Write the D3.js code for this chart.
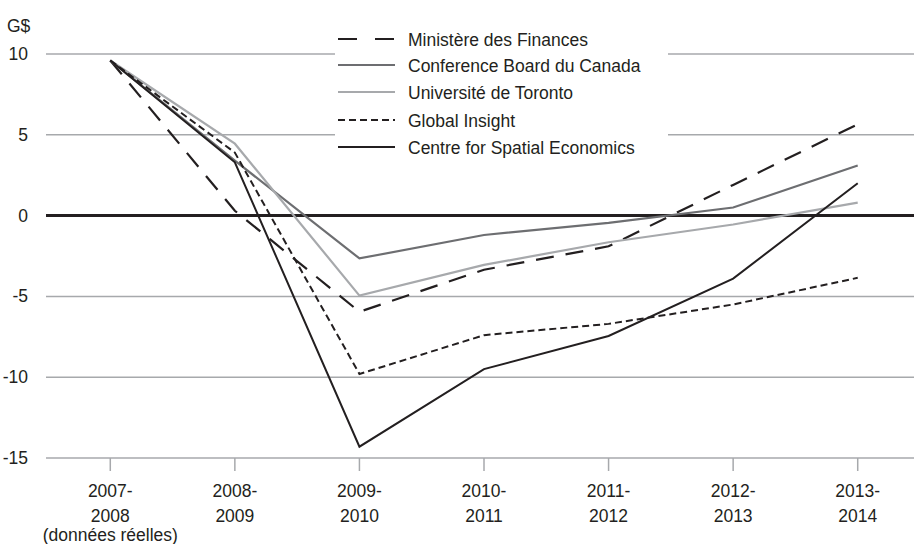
<!DOCTYPE html>
<html>
<head>
<meta charset="utf-8">
<script src="https://cdn.jsdelivr.net/npm/d3@7"></script>
<style>
  body { margin: 0; background: #fff; }
  text { font-family: "Liberation Sans", Arial, sans-serif; fill: #231f20; font-size: 17.5px; }
</style>
</head>
<body>
<svg id="chart"></svg>
<script>
// data //
var years = ["2007-2008", "2008-2009", "2009-2010", "2010-2011", "2011-2012", "2012-2013", "2013-2014"];
var yearTop = ["2007-", "2008-", "2009-", "2010-", "2011-", "2012-", "2013-"];
var yearBottom = ["2008", "2009", "2010", "2011", "2012", "2013", "2014"];
var yTicks = [10, 5, 0, -5, -10, -15];

var finances = [9.6, 0.3, -5.95, -3.35, -1.9, 1.9, 5.65];
var conference = [9.6, 3.4, -2.65, -1.2, -0.45, 0.5, 3.1];
var toronto = [9.6, 4.45, -4.95, -3.05, -1.65, -0.55, 0.8];
var globalInsight = [9.6, 3.9, -9.8, -7.4, -6.7, -5.5, -3.85];
var spatial = [9.6, 3.3, -14.3, -9.5, -7.45, -3.9, 2.0];

var seriesNames = ["Ministère des Finances", "Conference Board du Canada", "Université de Toronto", "Global Insight", "Centre for Spatial Economics"];

var series = [
  { name: seriesNames[0], values: finances, color: "#231f20", dash: "18,12", width: 2.2 },
  { name: seriesNames[1], values: conference, color: "#6d6e71", dash: null, width: 2.2 },
  { name: seriesNames[2], values: toronto, color: "#a7a9ac", dash: null, width: 2.2 },
  { name: seriesNames[3], values: globalInsight, color: "#231f20", dash: "7,4", width: 2 },
  { name: seriesNames[4], values: spatial, color: "#231f20", dash: null, width: 2 }
];

var screen = { width: 914, height: 544 };
var svg = d3.select("#chart").attr("width", screen.width).attr("height", screen.height);

var xScale = d3.scalePoint().domain(years).range([48, 920]).padding(0.5);
var yScale = d3.scaleLinear().domain([-15, 10]).range([458, 54]);

// gridlines //
svg.append("g").selectAll("line")
  .data(yTicks.filter(function (d) { return d !== 0; }))
  .enter().append("line")
  .attr("x1", 46).attr("x2", screen.width)
  .attr("y1", function (d) { return yScale(d); })
  .attr("y2", function (d) { return yScale(d); })
  .attr("stroke", "#a7a9ac").attr("stroke-width", 1.5);

// x ticks //
svg.append("g").selectAll("line")
  .data(years)
  .enter().append("line")
  .attr("x1", function (d) { return xScale(d); })
  .attr("x2", function (d) { return xScale(d); })
  .attr("y1", yScale(-15)).attr("y2", yScale(-15) + 13)
  .attr("stroke", "#a7a9ac").attr("stroke-width", 1.5);

// y labels //
svg.append("g").selectAll("text")
  .data(yTicks)
  .enter().append("text")
  .attr("x", 28)
  .attr("y", function (d) { return yScale(d) + 6; })
  .attr("text-anchor", "end")
  .text(function (d) { return d; });

svg.append("text").attr("x", 7).attr("y", 32).text("G$");

// x labels //
var xl = svg.append("g");
years.forEach(function (y, i) {
  xl.append("text").attr("x", xScale(y)).attr("y", 497).attr("text-anchor", "middle").text(yearTop[i]);
  xl.append("text").attr("x", xScale(y)).attr("y", 522).attr("text-anchor", "middle").text(yearBottom[i]);
});
xl.append("text").attr("x", xScale(years[0])).attr("y", 541).attr("text-anchor", "middle")
  .text("(données réelles)");

// legend background //
svg.append("rect").attr("x", 335).attr("y", 26).attr("width", 333).attr("height", 134).attr("fill", "#fff");

// zero line //
svg.append("line")
  .attr("x1", 46).attr("x2", screen.width)
  .attr("y1", yScale(0)).attr("y2", yScale(0))
  .attr("stroke", "#231f20").attr("stroke-width", 3);

// lines //
var line = d3.line()
  .x(function (d, i) { return xScale(years[i]); })
  .y(function (d) { return yScale(d); });

svg.append("g").selectAll("path")
  .data(series)
  .enter().append("path")
  .attr("d", function (s) { return line(s.values); })
  .attr("fill", "none")
  .attr("stroke", function (s) { return s.color; })
  .attr("stroke-width", function (s) { return s.width; })
  .attr("stroke-dasharray", function (s) { return s.dash; })
  .attr("stroke-linejoin", "miter");

// legend //
var legY = [39, 65, 92, 120, 147];
var leg = svg.append("g").selectAll("g")
  .data(series)
  .enter().append("g")
  .attr("transform", function (s, i) { return "translate(0," + legY[i] + ")"; });
leg.append("line")
  .attr("x1", 338).attr("x2", 395).attr("y1", 0).attr("y2", 0)
  .attr("stroke", function (s) { return s.color; })
  .attr("stroke-width", function (s) { return s.width; })
  .attr("stroke-dasharray", function (s, i) { return i === 0 ? "19,18" : s.dash; });
leg.append("text")
  .attr("x", 408).attr("y", 6.5)
  .text(function (s) { return s.name; });
</script>
</body>
</html>
